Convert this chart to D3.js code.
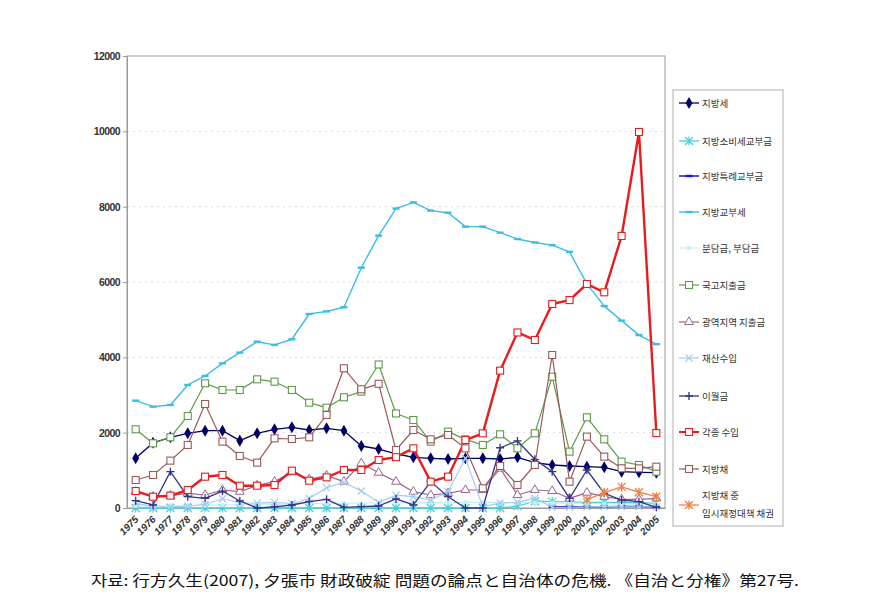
<!DOCTYPE html>
<html><head><meta charset="utf-8">
<script src="https://cdn.jsdelivr.net/npm/d3@7"></script>
<style>
html,body{margin:0;padding:0;background:#fff;}
svg{display:block;}
</style></head>
<body>
<svg id="chart" width="893" height="612"></svg>
<script>
// ---- data ----
const years = ["1975","1976","1977","1978","1979","1980","1981","1982","1983","1984","1985","1986","1987","1988","1989","1990","1991","1992","1993","1994","1995","1996","1997","1998","1999","2000","2001","2002","2003","2004","2005"];
const yTicks = [0,2000,4000,6000,8000,10000,12000];

const localTax        = [1319,1730,1877,1983,2053,2053,1788,1983,2089,2142,2071,2115,2053,1646,1566,1440,1345,1319,1301,1319,1319,1301,1345,1204,1142,1115,1097,1080,965,947,938];
const consumptionGrant= [0,0,0,0,0,0,0,0,0,0,0,0,0,0,0,0,0,0,0,0,0,0,50,180,170,160,150,150,140,140,130];
const specialGrant    = [null,null,null,null,null,null,null,null,null,null,null,null,null,null,null,null,null,null,null,null,null,null,null,null,30,30,30,30,40,40,20];
const allocationTax   = [2850,2690,2735,3266,3505,3840,4125,4415,4330,4480,5150,5220,5330,6380,7230,7950,8115,7895,7840,7470,7470,7310,7140,7050,6980,6800,5950,5360,4975,4590,4350];
const contributions   = [60,50,50,60,70,80,90,100,100,110,120,120,130,130,140,140,150,150,150,150,150,150,140,140,130,130,120,110,100,100,100];
const treasury        = [2089,1717,1877,2443,3310,3133,3133,3416,3354,3133,2796,2664,2939,3089,3810,2510,2336,1761,2027,1823,1673,1956,1584,1983,3487,1496,2407,1823,1230,1142,965];
const prefectural     = [433,300,327,390,345,478,433,600,700,950,760,860,700,1186,938,700,433,345,390,478,478,1050,345,478,451,257,407,300,230,230,257];
const property        = [130,30,30,50,100,245,140,130,150,120,250,540,680,450,150,340,300,212,433,1319,35,130,150,260,20,20,30,40,30,30,30];
const carryover       = [195,80,965,300,257,450,186,0,30,80,168,230,18,35,53,240,80,700,300,0,0,1600,1780,1293,965,257,1009,390,212,168,18];
const miscIncome      = [450,300,327,478,831,876,592,592,610,991,725,814,1009,1009,1274,1350,1585,700,832,1805,1982,3646,4660,4460,5416,5520,5947,5726,7222,9983,1990];
const localBonds      = [743,876,1257,1673,2761,1761,1381,1204,1850,1832,1877,2469,3709,3151,3297,1540,2071,1823,1938,1584,523,1115,611,1142,4062,699,1894,1363,1053,1053,1097];
const tempBonds       = [null,null,null,null,null,null,null,null,null,null,null,null,null,null,null,null,null,null,null,null,null,null,null,null,null,null,220,410,560,420,300];

const seriesNames = ["지방세","지방소비세교부금","지방특례교부금","지방교부세","분담금, 부담금","국고지출금","광역지역 지출금","재산수입","이월금","각종 수입","지방채","지방채 중\n임시재정대책 채권"];
const sourceText = "자료: 行方久生(2007), 夕張市 財政破綻 問題の論点と自治体の危機. 《自治と分権》第27号.";

// ---- styles ----
const series = [
  {name:seriesNames[0], values:localTax,        color:"#000066", marker:"diamond",  width:1.3},
  {name:seriesNames[1], values:consumptionGrant,color:"#44d4e0", marker:"asterisk", width:1.3},
  {name:seriesNames[2], values:specialGrant,    color:"#1a1acc", marker:"dash",     width:1.5},
  {name:seriesNames[3], values:allocationTax,   color:"#3cbde6", marker:"dash",     width:1.4},
  {name:seriesNames[4], values:contributions,   color:"#c4f0f0", marker:"small",    width:1.2},
  {name:seriesNames[5], values:treasury,        color:"#5e9a48", marker:"square",   width:1.2},
  {name:seriesNames[6], values:prefectural,     color:"#9a6690", marker:"triangle", width:1.2},
  {name:seriesNames[7], values:property,        color:"#a6cdee", marker:"x",        width:1.2},
  {name:seriesNames[8], values:carryover,       color:"#33338a", marker:"plus",     width:1.3},
  {name:seriesNames[9], values:miscIncome,      color:"#e81c1c", marker:"square",   width:2.4},
  {name:seriesNames[10],values:localBonds,      color:"#9a5a5a", marker:"square",   width:1.2},
  {name:seriesNames[11],values:tempBonds,       color:"#f08040", marker:"asterisk", width:1.3}
];

const svg = d3.select("#chart");
const plot = {left:127, right:665, top:56, bottom:508};

const x = d3.scalePoint().domain(years).range([plot.left, plot.right]).padding(0.5);
const y = d3.scaleLinear().domain([0,12000]).range([plot.bottom, plot.top]);

// gridlines
svg.append("g").selectAll("line").data(yTicks.filter(t=>t>0 && t<12000)).join("line")
  .attr("x1", plot.left).attr("x2", plot.right)
  .attr("y1", d=>y(d)).attr("y2", d=>y(d))
  .attr("stroke","#dcdcdc").attr("stroke-width",1).attr("stroke-dasharray","2,4");

// frame
svg.append("rect").attr("x",plot.left).attr("y",plot.top)
  .attr("width",plot.right-plot.left).attr("height",plot.bottom-plot.top)
  .attr("fill","none").attr("stroke","#9a9a9a").attr("stroke-width",1);

// y axis
const yAxis = svg.append("g").attr("transform",`translate(${plot.left},0)`)
  .call(d3.axisLeft(y).tickValues(yTicks).tickSize(4).tickSizeOuter(0).tickFormat(d3.format("d")));
yAxis.select(".domain").attr("stroke","#9a9a9a");
yAxis.selectAll(".tick line").attr("stroke","#9a9a9a");
yAxis.selectAll("text").attr("font-family","Liberation Sans, Arial, sans-serif")
  .attr("font-size",10.5).attr("font-weight","bold").attr("fill","#333").attr("x",-7)
  .attr("letter-spacing","-0.6");

// x axis
const xAxis = svg.append("g").attr("transform",`translate(0,${plot.bottom})`)
  .call(d3.axisBottom(x).tickSize(0).tickSizeOuter(0));
xAxis.select(".domain").attr("stroke","#9a9a9a");
xAxis.selectAll("text")
  .attr("font-family","Liberation Sans, Arial, sans-serif")
  .attr("font-size",10).attr("font-weight","bold").attr("font-style","italic").attr("fill","#333")
  .attr("text-anchor","end").attr("dy",0).attr("y",0)
  .attr("transform","translate(3,12) rotate(-45)");

// lines
const line = d3.line().defined(d=>d.v!=null).x(d=>x(d.year)).y(d=>y(d.v));

function drawMarker(g, type, color, cx, cy, big){
  const s = big ? 1 : 1;
  switch(type){
    case "diamond":
      g.append("path").attr("d", d3.symbol(d3.symbolDiamond, 42)())
        .attr("transform",`translate(${cx},${cy})`).attr("fill",color); break;
    case "square":
      g.append("rect").attr("x",cx-3.5).attr("y",cy-3.5).attr("width",7).attr("height",7)
        .attr("fill","#fff").attr("stroke",color).attr("stroke-width",1.1); break;
    case "triangle":
      g.append("path").attr("d", d3.symbol(d3.symbolTriangle, 34)())
        .attr("transform",`translate(${cx},${cy})`).attr("fill","#fff").attr("stroke",color).attr("stroke-width",1); break;
    case "dash":
      g.append("line").attr("x1",cx-3.5).attr("x2",cx+3.5).attr("y1",cy).attr("y2",cy)
        .attr("stroke",color).attr("stroke-width",2.4); break;
    case "small":
      g.append("rect").attr("x",cx-2).attr("y",cy-2).attr("width",4).attr("height",4).attr("fill",color); break;
    case "plus":
      g.append("path").attr("d",`M${cx-4},${cy}H${cx+4}M${cx},${cy-4}V${cy+4}`)
        .attr("stroke",color).attr("stroke-width",1.3); break;
    case "x":
      g.append("path").attr("d",`M${cx-3.5},${cy-3.5}L${cx+3.5},${cy+3.5}M${cx-3.5},${cy+3.5}L${cx+3.5},${cy-3.5}`)
        .attr("stroke",color).attr("stroke-width",1.3); break;
    case "asterisk":
      g.append("path").attr("d",`M${cx-4},${cy-4}L${cx+4},${cy+4}M${cx-4},${cy+4}L${cx+4},${cy-4}M${cx},${cy-4.5}V${cy+4.5}`)
        .attr("stroke",color).attr("stroke-width",1.3); break;
  }
}

const linesG = svg.append("g");
series.forEach(s=>{
  const pts = years.map((yr,i)=>({year:yr, v:s.values[i]}));
  const g = linesG.append("g");
  g.append("path").datum(pts).attr("d",line).attr("fill","none")
    .attr("stroke",s.color).attr("stroke-width",s.width).attr("stroke-linejoin","round");
  pts.filter(p=>p.v!=null).forEach(p=>drawMarker(g, s.marker, s.color, x(p.year), y(p.v)));
});

// legend
const legend = svg.append("g");
legend.append("rect").attr("x",673).attr("y",90).attr("width",110).attr("height",436)
  .attr("fill","#fff").attr("stroke","#b0b0b0").attr("stroke-width",1);
const legY = [103,141,176,212,248,285,322,358,396,432,469,505];
series.forEach((s,i)=>{
  const cy = legY[i];
  const g = legend.append("g");
  g.append("line").attr("x1",679).attr("x2",699).attr("y1",cy).attr("y2",cy)
    .attr("stroke",s.color).attr("stroke-width",Math.min(s.width,2));
  drawMarker(g, s.marker, s.color, 689, cy);
  const lines = s.name.split("\n");
  const t = g.append("text").attr("font-family","Noto Sans CJK KR, sans-serif")
    .attr("font-size",9.5).attr("fill","#333");
  if(lines.length===1){
    t.attr("x",702).attr("y",cy+3.5).text(lines[0]);
  } else {
    t.append("tspan").attr("x",702).attr("y",cy-6).text(lines[0]);
    t.append("tspan").attr("x",702).attr("y",cy+12).text(lines[1]);
  }
});

// source
svg.append("text").attr("x",91).attr("y",586)
  .attr("font-family","Noto Sans CJK JP, sans-serif").attr("font-size",15).attr("fill","#111")
  .attr("textLength",708).attr("lengthAdjust","spacingAndGlyphs")
  .text(sourceText);
</script>
</body></html>
